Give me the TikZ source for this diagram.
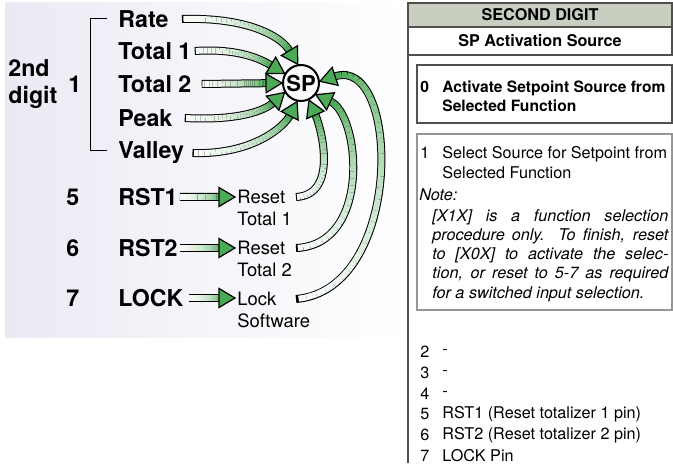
\documentclass[tikz,border=0pt]{standalone}
\usepackage{fontspec}
\setmainfont{TeX Gyre Heros}
\usepackage{tikz}
\usetikzlibrary{arrows.meta,calc,positioning}
\definecolor{arrowgreen}{RGB}{76,170,86}
\definecolor{panelbg}{RGB}{234,234,244}
\definecolor{headgray}{RGB}{200,207,193}
\definecolor{linegray}{RGB}{80,80,80}

% shaded fat arrow: tail, control 1, control 2, head
\newcommand\fatarrow[4]{%
  \coordinate (fabase) at ($(#4)!8pt!(#3)$);
  \draw[line width=4pt] (#1) .. controls (#2) and (#3) .. (fabase);
  \foreach \i in {1,...,30}{%
    \pgfmathsetmacro\fatpct{4+96*pow(\i/30,1.6)}%
    \pgfmathsetmacro\fatfrom{max(0.008,(\i-1)/30)}%
    \path (#1) .. controls (#2) and (#3) .. (fabase)
      coordinate[pos=\fatfrom] (faA) coordinate[pos=\i/30] (faB);
    \draw[line width=3pt, arrowgreen!\fatpct!white] (faA) -- (faB);
  }%
  \filldraw[fill=arrowgreen, line width=0.6pt, line join=miter]
    (#4) -- ($(fabase)!4.75pt!90:(#4)$) -- ($(fabase)!4.75pt!-90:(#4)$) -- cycle;
}
% straight version
\newcommand\fatline[2]{\fatarrow{#1}{$(#1)!0.33!(#2)$}{$(#1)!0.67!(#2)$}{#2}}

\begin{document}
\begin{tikzpicture}[x=0.5pt, y=-0.5pt,
    bigtxt/.style={font=\fontsize{11.6}{13.5}\selectfont\bfseries, inner sep=1pt, anchor=west},
    midtxt/.style={font=\fontsize{9.2}{11.2}\selectfont, inner sep=1pt, anchor=west, align=left},
    tabtxt/.style={font=\fontsize{8.1}{10}\selectfont, inner sep=0pt, anchor=west},
    tabbf/.style={tabtxt, font=\fontsize{8.1}{9.6}\selectfont\bfseries},
  ]
  \useasboundingbox (0,0) rectangle (673,474);
  % Panel background
  \shade[left color=panelbg, right color=white] (5,3) rectangle (407,338);

  % Bracket and digit label
  \draw[line width=0.5pt] (107,19) -- (90,19) -- (90,151) -- (107,151);
  \node[bigtxt, align=left] (digit) at (6,84) {2nd\\digit};
  \node[bigtxt] (one) at (66,84) {1};

  % Sources
  \node[bigtxt] (rate) at (116,19) {Rate};
  \node[bigtxt] (totalA) at (116,51) {Total 1};
  \node[bigtxt] (totalB) at (116,84) {Total 2};
  \node[bigtxt] (peak) at (116,118) {Peak};
  \node[bigtxt] (valley) at (116,153) {Valley};
  \node[circle, draw, line width=1pt, minimum size=18pt, inner sep=0pt,
    font=\fontsize{11}{12}\selectfont\bfseries] (sp) at (301,83) {SP};

  % Switched inputs
  \node[bigtxt] (five) at (64,197) {5};
  \node[bigtxt] (six) at (64,248) {6};
  \node[bigtxt] (seven) at (64,298) {7};
  \node[bigtxt] (rstA) at (116,197) {RST1};
  \node[bigtxt] (rstB) at (116,248) {RST2};
  \node[bigtxt] (lock) at (116,298) {LOCK};
  \node[midtxt] (resetA) at (235,208) {Reset\\Total 1};
  \node[midtxt] (resetB) at (235,259) {Reset\\Total 2};
  \node[midtxt] (locksw) at (235,310) {Lock\\Software};

  % Arrow ends
  \coordinate (rateT) at ([xshift=5.5pt]rate.east);
  \coordinate (totalAT) at ([xshift=0.5pt]totalA.east);
  \coordinate (totalBT) at ([xshift=4pt]totalB.east);
  \coordinate (peakT) at ([xshift=5pt]peak.east);
  \coordinate (valleyT) at ([xshift=3pt]valley.east);
  \coordinate (rstAT) at (rstA.east);
  \coordinate (rstBT) at (rstB.east);
  \coordinate (lockT) at ([xshift=1.5pt]lock.east);
  \coordinate (resetAH) at (resetA.west |- rstA.east);
  \coordinate (resetBH) at (resetB.west |- rstB.east);
  \coordinate (lockswH) at (locksw.west |- lock.east);
  \coordinate (tailA) at (296,197);
  \coordinate (tailB) at (296,248);
  \coordinate (tailC) at (296,299);
  \coordinate (spwest) at (sp.west);

  % Arrows into SP
  \fatarrow{rateT}{245,17}{280,35}{sp.100}
  \fatarrow{totalAT}{240,48}{262,60}{sp.150}
  \fatline{totalBT}{spwest}
  \fatarrow{peakT}{240,121}{265,110}{sp.210}
  \fatarrow{valleyT}{255,155}{285,125}{sp.258}
  \fatarrow{tailA}{338,195}{322,130}{sp.295}
  \fatarrow{tailB}{372,245}{360,115}{sp.322}
  \fatarrow{tailC}{405,290}{400,55}{sp.5}
  % short arrows
  \fatline{rstAT}{resetAH}
  \fatline{rstBT}{resetBH}
  \fatline{lockT}{lockswH}

  % Table header
  \draw[linegray, line width=0.7pt] (408,3) -- (408,463);
  \filldraw[fill=headgray, draw=linegray, line width=0.7pt] (408,3) rectangle (672,27);
  \draw[linegray, line width=0.8pt] (408,27) rectangle (672,55);
  \node[tabbf, anchor=center] (hdr) at (540,15) {SECOND DIGIT};
  \node[tabbf, anchor=center] (src) at (540,41) {SP Activation Source};

  % Option 0
  \draw[linegray, line width=0.6pt] (417,65) rectangle (672,123);
  \node[tabbf, font=\fontsize{7.8}{9.6}\selectfont\bfseries] (numA) at (420,87) {0};
  \node[tabbf, font=\fontsize{7.8}{9.6}\selectfont\bfseries, align=left] (optA) at (442,96.5)
    {Activate Setpoint Source from\\Selected Function};

  % Option 1
  \draw[linegray!60, line width=0.7pt] (417,134) rectangle (672,310);
  \node[tabtxt] (numB) at (420,153) {1};
  \node[tabtxt, align=left] (optB) at (442,163) {Select Source for Setpoint from\\Selected Function};
  \node[tabtxt, font=\fontsize{8.1}{10}\selectfont\itshape] (note) at (419,195) {Note:};
  \node[tabtxt, font=\fontsize{8.1}{9.6}\selectfont\itshape, text width=118pt, align=justify,
    anchor=north west] (notetxt) at (432,209)
    {[X1X] is a function selection\linebreak procedure only. To finish, reset\linebreak
     to [X0X] to activate the selec-\linebreak tion, or reset to 5-7 as required\linebreak
     for a switched input selection.};

  % Other values
  \foreach \n/\txt in {2/-, 3/-, 4/-, 5/RST1 (Reset totalizer 1 pin),
      6/RST2 (Reset totalizer 2 pin), 7/LOCK Pin} {
    \node[tabtxt] (num\n) at (420,{352+20.8*(\n-2)}) {\n};
    \node[tabtxt] (item\n) at (442,{352+20.8*(\n-2)}) {\txt};
  }
\end{tikzpicture}
\end{document}
